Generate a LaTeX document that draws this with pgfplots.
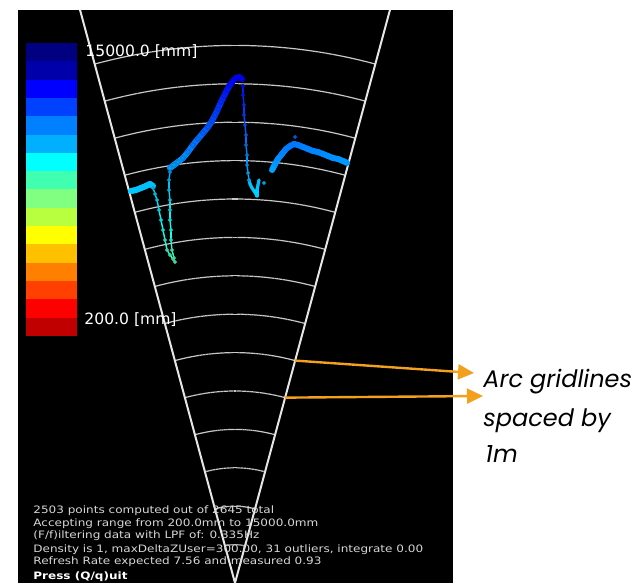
\documentclass[border=0pt]{standalone}
\usepackage{pgfplots}
\pgfplotsset{compat=1.18}
\usepackage{pgfplotstable}
\usepackage{fontspec}
\setmainfont{DejaVu Sans}
\newfontfamily\statfont{DejaVu Sans}[FakeStretch=1.18]
\newfontfamily\annfont{Poppins}
\usetikzlibrary{arrows.meta}
\definecolor{annorange}{RGB}{243,160,30}
\definecolor{gridgray}{RGB}{200,200,200}
\definecolor{fangray}{RGB}{230,230,230}
\definecolor{txtgray}{RGB}{215,215,215}
\definecolor{cbA}{RGB}{0,0,128}
\definecolor{cbB}{RGB}{0,0,170}
\definecolor{cbC}{RGB}{0,0,255}
\definecolor{cbD}{RGB}{0,64,255}
\definecolor{cbE}{RGB}{0,128,255}
\definecolor{cbF}{RGB}{0,176,255}
\definecolor{cbG}{RGB}{0,255,255}
\definecolor{cbH}{RGB}{64,255,176}
\definecolor{cbI}{RGB}{128,255,128}
\definecolor{cbJ}{RGB}{184,255,64}
\definecolor{cbK}{RGB}{255,255,0}
\definecolor{cbL}{RGB}{255,192,0}
\definecolor{cbM}{RGB}{255,128,0}
\definecolor{cbN}{RGB}{255,64,0}
\definecolor{cbO}{RGB}{255,0,0}
\definecolor{cbP}{RGB}{192,0,0}

% point cloud, metres (x lateral, y range)
\pgfplotstableread{
x y
-2.708 10.208
-2.643 10.221
-2.578 10.234
-2.513 10.260
-2.448 10.286
-2.383 10.312
-2.318 10.339
-2.266 10.365
-2.214 10.391
-2.135 10.339
}\leftband
\pgfplotstableread{
x y
-2.135 10.286
-2.083 10.130
-2.031 9.974
-1.979 9.714
-1.927 9.453
-1.875 9.193
-1.823 8.932
-1.771 8.672
-1.693 8.542
-1.615 8.438
-1.563 8.359
}\descone
\pgfplotstableread{
x y
-1.589 8.464
-1.641 8.672
-1.667 8.932
-1.667 9.193
-1.693 9.453
-1.693 9.714
-1.693 9.974
-1.719 10.234
-1.719 10.495
-1.693 10.703
}\ascone
\pgfplotstableread{
x y
-1.693 10.807
-1.589 10.885
-1.484 10.964
-1.354 11.068
-1.224 11.224
-1.094 11.406
-0.964 11.563
-0.833 11.719
-0.703 11.875
-0.599 12.031
-0.521 12.188
-0.443 12.344
-0.365 12.526
-0.286 12.682
-0.208 12.839
-0.130 12.969
-0.052 13.073
0.026 13.151
0.104 13.177
0.182 13.125
}\upband
\pgfplotstableread{
x y
0.208 12.943
0.208 12.708
0.234 12.448
0.234 12.188
0.260 11.927
0.286 11.667
0.286 11.406
0.313 11.146
0.313 10.885
0.339 10.677
0.365 10.495
}\desctwo
\pgfplotstableread{
x y
0.365 10.495
0.391 10.391
0.443 10.286
0.495 10.208
0.547 10.130
0.573 10.078
0.573 10.234
0.599 10.365
0.625 10.495
}\dip
\pgfplotstableread{
x y
0.755 10.417
1.563 11.615
}\strays
\pgfplotstableread{
x y
0.964 10.755
1.042 10.911
1.120 11.042
1.224 11.172
1.328 11.302
1.432 11.380
1.536 11.432
1.641 11.406
1.771 11.354
1.901 11.302
2.031 11.250
2.161 11.224
2.292 11.172
2.422 11.120
2.552 11.068
2.682 11.042
2.813 10.990
2.917 10.938
}\rightband

\begin{document}
\begin{tikzpicture}
\begin{axis}[
  x=19.2pt, y=19.2pt,
  xmin=-6.1198, xmax=10.5469, ymin=0, ymax=15.1823,
  hide axis, clip=false,
  colormap={jetr}{rgb255(0cm)=(127,0,0) rgb255(1cm)=(255,0,0) rgb255(3cm)=(255,255,0) rgb255(5cm)=(0,255,255) rgb255(7cm)=(0,0,255) rgb255(8cm)=(0,0,127)},
  point meta min=0.2, point meta max=15,
  band/.style={mesh, line width=3pt, line cap=round, line join=round, point meta=y},
  thin/.style={mesh, line width=0.7pt, line cap=round, point meta=y},
  dots/.style={scatter, only marks, mark=*, point meta=y},
]
\fill[white] (axis cs:-6.1198,0) rectangle (axis cs:10.5469,15.1823);
\fill[black] (axis cs:-5.651,0) rectangle (axis cs:5.677,14.922);
% colour bar
\fill[cbA] (axis cs:-5.443,14.0625) rectangle (axis cs:-4.115,13.5856);
\fill[cbB] (axis cs:-5.443,13.5856) rectangle (axis cs:-4.115,13.1087);
\fill[cbC] (axis cs:-5.443,13.1087) rectangle (axis cs:-4.115,12.6318);
\fill[cbD] (axis cs:-5.443,12.6318) rectangle (axis cs:-4.115,12.1549);
\fill[cbE] (axis cs:-5.443,12.1549) rectangle (axis cs:-4.115,11.6780);
\fill[cbF] (axis cs:-5.443,11.6780) rectangle (axis cs:-4.115,11.2011);
\fill[cbG] (axis cs:-5.443,11.2011) rectangle (axis cs:-4.115,10.7242);
\fill[cbH] (axis cs:-5.443,10.7242) rectangle (axis cs:-4.115,10.2473);
\fill[cbI] (axis cs:-5.443,10.2473) rectangle (axis cs:-4.115,9.7704);
\fill[cbJ] (axis cs:-5.443,9.7704) rectangle (axis cs:-4.115,9.2935);
\fill[cbK] (axis cs:-5.443,9.2935) rectangle (axis cs:-4.115,8.8166);
\fill[cbL] (axis cs:-5.443,8.8166) rectangle (axis cs:-4.115,8.3397);
\fill[cbM] (axis cs:-5.443,8.3397) rectangle (axis cs:-4.115,7.8628);
\fill[cbN] (axis cs:-5.443,7.8628) rectangle (axis cs:-4.115,7.3859);
\fill[cbO] (axis cs:-5.443,7.3859) rectangle (axis cs:-4.115,6.9090);
\fill[cbP] (axis cs:-5.443,6.9090) rectangle (axis cs:-4.115,6.4321);
% range arcs (1 m apart)
\pgfplotsinvokeforeach{1,...,14}{
  \addplot[gridgray, line width=0.6pt, domain=74.87:105.13, samples=40, variable=\t] ({#1*cos(\t)},{#1*sin(\t)});
}
% field-of-view lines
\addplot[fangray, line width=1pt] coordinates {(-4.035,14.922) (0,0) (4.035,14.922)};
% point cloud
\addplot[band] table {\leftband};
\addplot[band] table {\upband};
\addplot[band] table {\rightband};
\addplot[thin] table {\descone};
\addplot[thin] table {\ascone};
\addplot[thin] table {\desctwo};
\addplot[mesh, line width=1.6pt, line cap=round, line join=round, point meta=y] table {\dip};
\addplot[dots, mark size=0.75pt] table {\descone};
\addplot[dots, mark size=0.75pt] table {\ascone};
\addplot[dots, mark size=0.75pt] table {\desctwo};
\addplot[dots, mark size=0.75pt] table {\strays};
\addplot[dots, mark size=1.1pt] table {\upband};
% colour-bar labels
\node[white, anchor=west, inner sep=0pt, font=\fontsize{7.8}{9}\selectfont] at (axis cs:-3.906,13.83) {15000.0 [mm]};
\node[white, anchor=west, inner sep=0pt, font=\fontsize{7.8}{9}\selectfont] at (axis cs:-3.932,6.849) {200.0 [mm]};
% status text
\node[txtgray, anchor=base west, inner sep=0pt, font=\statfont\fontsize{5.1}{6}\selectfont] at (axis cs:-5.260,1.797) {2503 points computed out of 2645 total};
\node[txtgray, anchor=base west, inner sep=0pt, font=\statfont\fontsize{5.1}{6}\selectfont] at (axis cs:-5.260,1.466) {Accepting range from 200.0mm to 15000.0mm};
\node[txtgray, anchor=base west, inner sep=0pt, font=\statfont\fontsize{5.1}{6}\selectfont] at (axis cs:-5.260,1.146) {(F/f)iltering data with LPF of: 0.335Hz};
\node[txtgray, anchor=base west, inner sep=0pt, font=\statfont\fontsize{5.1}{6}\selectfont] at (axis cs:-5.260,0.799) {Density is 1, maxDeltaZUser=300.00, 31 outliers, integrate 0.00};
\node[txtgray, anchor=base west, inner sep=0pt, font=\statfont\fontsize{5.1}{6}\selectfont] at (axis cs:-5.260,0.469) {Refresh Rate expected 7.56 and measured 0.93};
\node[white, anchor=base west, inner sep=0pt, font=\statfont\fontsize{5.1}{6}\selectfont\bfseries] at (axis cs:-5.260,0.104) {Press (Q/q)uit};
% annotation
\draw[annorange, line width=1.2pt, -{Triangle[length=8pt,width=7.5pt]}] (axis cs:1.566,5.792) -- (axis cs:6.224,5.469);
\draw[annorange, line width=1.2pt, -{Triangle[length=8pt,width=7.5pt]}] (axis cs:1.305,4.827) -- (axis cs:6.458,4.870);
\node[anchor=base west, inner sep=0pt, font=\annfont\itshape\fontsize{12}{14}\selectfont] at (axis cs:6.458,5.104) {Arc gridlines};
\node[anchor=base west, inner sep=0pt, font=\annfont\itshape\fontsize{12}{14}\selectfont] at (axis cs:6.458,4.063) {spaced by};
\node[anchor=base west, inner sep=0pt, font=\annfont\itshape\fontsize{12}{14}\selectfont] at (axis cs:6.510,3.151) {1m};
\end{axis}
\end{tikzpicture}
\end{document}
